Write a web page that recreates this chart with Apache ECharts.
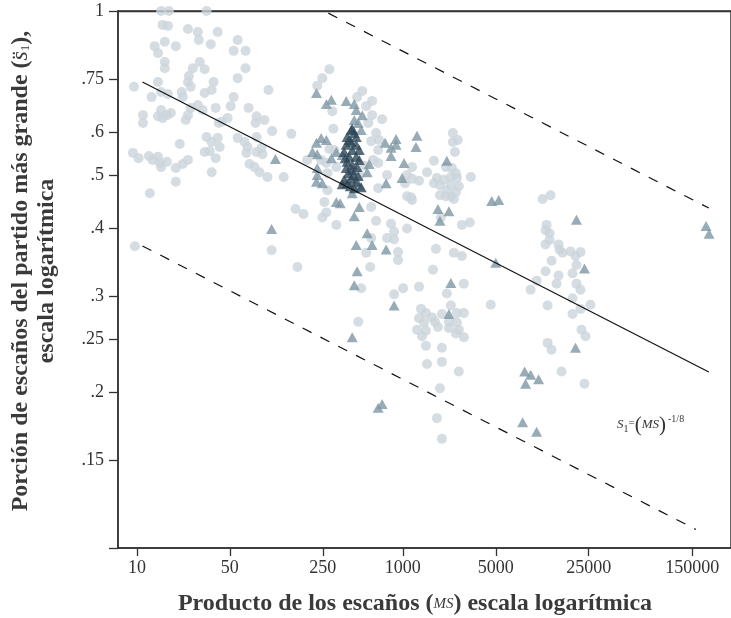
<!DOCTYPE html>
<html><head><meta charset="utf-8">
<script src="https://cdn.jsdelivr.net/npm/echarts@6/dist/echarts.min.js"></script>
<style>html,body{margin:0;padding:0;background:#fff}#c{width:731px;height:618px}</style>
</head><body><div id="c"></div>
<script>
// ---- data (MS product, largest-party seat share) ----
const xTicks = [10, 50, 250, 1000, 5000, 25000, 150000];
const yTicks = [1, 0.75, 0.6, 0.5, 0.4, 0.3, 0.25, 0.2, 0.15];

const lightCircles = [
[15.2,1.0],[17.4,1.0],[33.4,1.0],[15.6,0.943],[17.1,0.939],[24.2,0.927],[28.7,0.915],[29.2,0.885],[40.5,0.915],
[16.2,0.878],[13.6,0.862],[14.4,0.837],[19.6,0.862],[35.9,0.869],[57.2,0.885],[53.4,0.845],[65.6,0.845],
[16.2,0.806],[16.2,0.785],[29.7,0.806],[26.3,0.785],[32.3,0.782],[65.6,0.785],[24.6,0.760],[24.2,0.741],
[25.4,0.726],[37.7,0.741],[57.2,0.753],[14.4,0.741],[9.5,0.726],[97.6,0.716],[36.5,0.716],[32.3,0.707],
[15.2,0.710],[17.1,0.704],[21.7,0.710],[22.1,0.695],[12.9,0.695],[53.4,0.695],[28.7,0.672],[25.4,0.664],
[31.2,0.658],[39.1,0.664],[50.7,0.669],[69.1,0.664],[15.2,0.658],[18.0,0.650],[14.4,0.641],[15.6,0.636],
[16.8,0.644],[11.1,0.644],[11.1,0.623],[24.2,0.644],[23.3,0.631],[79.4,0.641],[78.0,0.623],[91.1,0.631],
[43.4,0.626],[48.1,0.636],[41.2,0.623],[104,0.602],[145,0.595],[57.2,0.585],[79.4,0.587],[33.4,0.587],
[40.5,0.585],[36.5,0.575],[41.9,0.563],[21.0,0.570],[64.5,0.575],[67.9,0.563],[66.7,0.549],[79.4,0.551],
[86.5,0.561],[88.0,0.546],[32.3,0.551],[35.3,0.553],[39.1,0.537],[9.33,0.549],[10.3,0.537],[12.3,0.542],
[14.4,0.540],[13.1,0.533],[14.9,0.526],[16.8,0.529],[15.2,0.517],[22.1,0.524],[24.2,0.533],[19.6,0.515],
[70.3,0.524],[76.7,0.517],[83.6,0.506],[95.9,0.496],[127,0.496],[36.5,0.506],[19.6,0.486],[12.5,0.463],
[9.66,0.370],[103,0.364],[161,0.339],[156,0.433],[179,0.424],
[280,0.782],[248,0.753],[227,0.729],[495,0.713],[453,0.695],[587,0.684],[530,0.669],[295,0.655],[587,0.644],
[698,0.633],[549,0.623],[300,0.608],[629,0.597],[578,0.577],[663,0.580],[652,0.556],[598,0.533],[652,0.526],
[305,0.556],[280,0.558],[266,0.526],[271,0.504],[316,0.517],[243,0.533],[191,0.533],[470,0.500],[512,0.520],
[761,0.500],[1172,0.517],[1075,0.500],[652,0.473],[1075,0.457],[1152,0.455],[578,0.437],[271,0.469],
[257,0.446],[266,0.427],[248,0.418],[316,0.405],[629,0.412],[815,0.407],[859,0.394],[859,0.381],[761,0.383],
[1075,0.399],[578,0.383],[530,0.360],[920,0.361],[920,0.349],[568,0.339],[486,0.310],[859,0.302],[1004,0.310],
[1323,0.312],[462,0.269],
[2379,0.597],[2379,0.575],[2593,0.580],[2462,0.551],[1713,0.531],[1519,0.506],[2107,0.517],[2338,0.515],
[2504,0.504],[2297,0.496],[1804,0.494],[2036,0.490],[2548,0.494],[3244,0.496],[1172,0.492],[1323,0.488],
[1039,0.483],[1713,0.483],[1900,0.479],[2297,0.479],[2638,0.477],[2142,0.469],[2504,0.465],[1900,0.459],
[2297,0.457],[2420,0.452],[2107,0.457],[1172,0.450],[1933,0.418],[2780,0.405],[3190,0.409],[1773,0.366],
[2420,0.360],[2780,0.355],[1684,0.335],[2876,0.316],
[2142,0.303],[2297,0.288],[4582,0.289],[1369,0.284],[1323,0.273],[1492,0.279],[1656,0.274],[1442,0.268],
[1743,0.269],[1836,0.263],[1278,0.260],[1492,0.259],[1393,0.253],[1967,0.278],[2548,0.279],[2876,0.279],
[2220,0.269],[2548,0.268],[2220,0.262],[2504,0.256],[2876,0.252],[2638,0.260],[1492,0.243],[1967,0.241],
[1519,0.225],[1967,0.227],[2638,0.218],[1900,0.203],[1804,0.179],[1967,0.164],
[11250,0.452],[12910,0.459],[12050,0.405],[11840,0.396],[12690,0.391],[12690,0.380],[11840,0.373],
[14823,0.373],[15080,0.365],[15890,0.360],[18230,0.362],[21670,0.361],[19880,0.355],[13130,0.348],
[20220,0.342],[11840,0.333],[14823,0.327],[18880,0.330],[10140,0.320],[9140,0.308],[14320,0.316],
[20220,0.316],[21670,0.308],[18880,0.297],[12260,0.288],[25750,0.289],[21670,0.284],[18880,0.278],
[22040,0.260],[23620,0.253],[12260,0.246],[13130,0.239],[15610,0.218],[23220,0.207]
];

const mediumTriangles = [
[224,0.707],[266,0.675],[290,0.687],[375,0.684],[431,0.675],[446,0.658],[495,0.644],[431,0.631],[462,0.623],
[486,0.605],[243,0.585],[266,0.580],[224,0.573],[209,0.551],[227,0.546],[290,0.537],[316,0.551],[350,0.544],
[735,0.573],[889,0.582],[889,0.568],[815,0.561],[815,0.542],[1277,0.590],[1255,0.563],[1021,0.526],
[558,0.524],[539,0.506],[227,0.515],[227,0.500],[224,0.486],[248,0.483],[986,0.494],[748,0.483],[470,0.479],
[416,0.463],[316,0.446],[338,0.444],[470,0.437],[431,0.420],[539,0.391],[446,0.372],[587,0.372],[748,0.365],
[453,0.333],[431,0.314],[859,0.288],[416,0.252],[652,0.187],[698,0.190],[110,0.535],[103,0.398],
[2142,0.531],[1836,0.433],[2220,0.429],[1900,0.412],[4660,0.448],[5262,0.450],[5000,0.345],[2297,0.317],
[2220,0.278],[20220,0.414],[23220,0.337],[19880,0.241],[8240,0.218],[9140,0.215],[8380,0.207],[10496,0.211],
[7960,0.176],[10140,0.169],[190700,0.403],[200900,0.390]
];

const darkTriangles = [
[416,0.608],[381,0.587],[446,0.587],[409,0.575],[375,0.568],[446,0.568],[416,0.556],[362,0.551],[470,0.556],
[395,0.540],[446,0.540],[381,0.529],[470,0.533],[416,0.522],[375,0.515],[453,0.517],[416,0.511],[362,0.490],
[409,0.492],[446,0.486],[381,0.483],[486,0.475],[431,0.473],[350,0.481],[409,0.605],[395,0.580],[431,0.597],
[368,0.537],[423,0.500],[388,0.504],[462,0.498],[402,0.477]
];

// reference lines: S1 = (MS)^(-1/8), and factor-of-two bounds
const refExponent = -1/8;
const solidRange = [11, 200000];
const upperRange = [275, 200000];
const lowerRange = [11, 160000];
const refLine = (r, k) => r.map(x => [x, k * Math.pow(x, refExponent)]);

const xMin = 7.205, xMax = 293700, yMin = 0.1034, yMax = 1;
const topRuleY = 0.998;   // share = 1 reference rule along the top
const serif = '"Liberation Serif", "DejaVu Serif", serif';

const chart = echarts.init(document.getElementById('c'), null, {renderer: 'canvas'});
chart.setOption({
  animation: false,
  grid: {left: 118, top: 11, right: -2, bottom: 70, containLabel: false,
         show: true, borderColor: '#333', borderWidth: 1.5, backgroundColor: 'transparent'},
  xAxis: {
    type: 'log', logBase: 10, min: xMin, max: xMax, position: 'bottom',
    axisLine: {show: true, onZero: false, lineStyle: {color: '#333', width: 1.5}},
    axisTick: {show: true, length: 8, lineStyle: {color: '#333', width: 1.3}, customValues: xTicks},
    axisLabel: {show: true, customValues: xTicks, margin: 11, color: '#333', fontFamily: serif, fontSize: 18,
      formatter: v => String(Math.round(v))},
    splitLine: {show: false}, minorTick: {show: false}
  },
  yAxis: {
    type: 'log', logBase: 10, min: yMin, max: yMax,
    axisLine: {show: true, onZero: false, lineStyle: {color: '#333', width: 1.5}},
    axisTick: {show: true, length: 9, lineStyle: {color: '#333', width: 1.3}, customValues: yTicks.concat([yMin])},
    axisLabel: {show: true, customValues: yTicks, margin: 14, color: '#333', fontFamily: serif, fontSize: 18,
      formatter: v => (v === 1 ? '1' : String(+v.toFixed(2)).replace(/^0/, ''))},
    splitLine: {show: false}, minorTick: {show: false}
  },
  series: [
    {type: 'line', data: [[xMin, topRuleY], [xMax, topRuleY]], symbol: 'none', silent: true, clip: false, z: 1,
     lineStyle: {color: '#333', width: 1.6}},
    {type: 'line', data: refLine(solidRange, 1), symbol: 'none', silent: true,
     lineStyle: {color: '#111', width: 1.2}},
    {type: 'line', data: refLine(upperRange, 2), symbol: 'none', silent: true,
     lineStyle: {color: '#111', width: 1.2, type: [10, 10]}},
    {type: 'line', data: refLine(lowerRange, 0.5), symbol: 'none', silent: true,
     lineStyle: {color: '#111', width: 1.2, type: [10, 10]}},
    {type: 'scatter', data: lightCircles, symbol: 'circle', symbolSize: 10,
     itemStyle: {color: '#cbd5db'}},
    {type: 'scatter', data: mediumTriangles, symbol: 'triangle', symbolSize: [11, 10],
     itemStyle: {color: '#7d97a4'}},
    {type: 'scatter', data: darkTriangles, symbol: 'triangle', symbolSize: [11, 10],
     itemStyle: {color: '#2e4757'}}
  ],
  graphic: [
    {type: 'text', x: 21, y: 271, rotation: Math.PI / 2,
     style: {text: 'Porción de escaños del partido más grande ({it|s\u0308}{sub|1}),',
       fontFamily: serif, fontSize: 24, fontWeight: 'bold', fill: '#3a3a3a', align: 'center', verticalAlign: 'middle',
       rich: {it: {fontFamily: serif, fontSize: 24, fontStyle: 'italic', fontWeight: 'normal', fill: '#3a3a3a'},
              sub: {fontFamily: serif, fontSize: 13, fontWeight: 'normal', fill: '#3a3a3a', padding: [10, 0, 0, 0]}}}},
    {type: 'text', x: 47, y: 271, rotation: Math.PI / 2,
     style: {text: 'escala logarítmica', fontFamily: serif, fontSize: 24, fontWeight: 'bold', fill: '#3a3a3a',
       align: 'center', verticalAlign: 'middle'}},
    {type: 'text', x: 415, y: 604,
     style: {text: 'Producto de los escaños ({ms|MS}) escala logarítmica', fontFamily: serif, fontSize: 24,
       fontWeight: 'bold', fill: '#3a3a3a', align: 'center', verticalAlign: 'middle',
       rich: {ms: {fontFamily: serif, fontSize: 15, fontStyle: 'italic', fontWeight: 'normal', fill: '#3a3a3a'}}}},
    {type: 'text', x: 617, y: 425,
     style: {text: '{s|S}{sub|1}{eq|=}{par|(}{ms|MS}{par|)}{sup|-1/8}', fontFamily: serif, fontSize: 13,
       fill: '#333', align: 'left', verticalAlign: 'middle',
       rich: {s: {fontFamily: serif, fontSize: 13, fontStyle: 'italic', fill: '#333'},
              sub: {fontFamily: serif, fontSize: 10, fill: '#333', padding: [8, 0, 0, 0]},
              eq: {fontFamily: serif, fontSize: 11, fill: '#333', padding: [0, 0, 4, 0]},
              par: {fontFamily: serif, fontSize: 21, fill: '#333'},
              ms: {fontFamily: serif, fontSize: 13, fontStyle: 'italic', fill: '#333'},
              sup: {fontFamily: serif, fontSize: 10, fill: '#333', padding: [0, 0, 11, 2]}}}}
  ]
});
</script></body></html>
